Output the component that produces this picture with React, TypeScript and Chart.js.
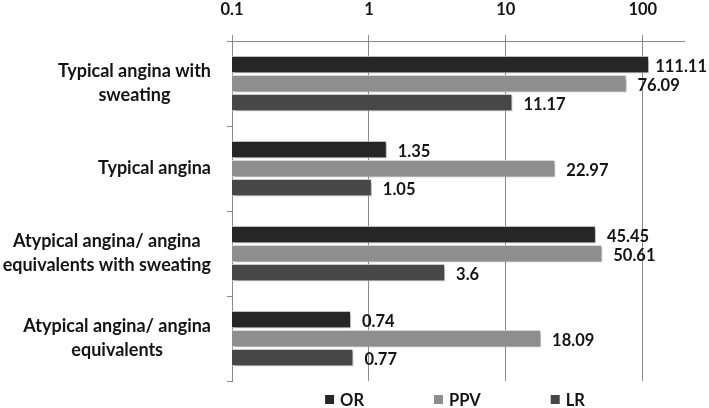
import React, { useEffect, useRef } from 'react';
import { Chart, registerables } from 'chart.js';

Chart.register(...registerables);

const categories: string[][] = [
  ['Typical angina with', 'sweating'],
  ['Typical angina'],
  ['Atypical angina/ angina', 'equivalents with sweating'],
  ['Atypical angina/ angina', 'equivalents'],
];
const seriesNames = ['OR', 'PPV', 'LR'];
const orValues = [111.11, 1.35, 45.45, 0.74];
const ppvValues = [76.09, 22.97, 50.61, 18.09];
const lrValues = [11.17, 1.05, 3.6, 0.77];
const xTickValues = [0.1, 1, 10, 100];
const seriesColors = ['#262626', '#8e8e8e', '#474747'];

const FONT = 'Lato, "Open Sans", "DejaVu Sans", sans-serif';
const TEXT = '#141414';

const shadowPlugin = {
  id: 'barShadow',
  beforeDatasetDraw(chart: any) {
    const ctx = chart.ctx;
    ctx.save();
    ctx.shadowColor = 'rgba(0,0,0,0.35)';
    ctx.shadowBlur = 3;
    ctx.shadowOffsetX = 2;
    ctx.shadowOffsetY = 2;
  },
  afterDatasetDraw(chart: any) {
    chart.ctx.restore();
  },
};

const valueLabelPlugin = {
  id: 'valueLabels',
  afterDatasetsDraw(chart: any) {
    const ctx = chart.ctx;
    ctx.save();
    ctx.font = `bold 16.5px ${FONT}`;
    ctx.fillStyle = TEXT;
    ctx.textAlign = 'left';
    ctx.textBaseline = 'middle';
    chart.data.datasets.forEach((ds: any, di: number) => {
      const meta = chart.getDatasetMeta(di);
      meta.data.forEach((bar: any, i: number) => {
        const txt = String(ds.data[i]);
        const w = ctx.measureText(txt).width;
        let x = bar.x + 11;
        if (x + w > chart.width - 2) x = chart.width - 2 - w;
        ctx.fillText(txt, x, bar.y + 2);
      });
    });
    ctx.restore();
  },
};

const categoryLabelPlugin = {
  id: 'categoryLabels',
  afterDraw(chart: any) {
    const ctx = chart.ctx;
    const yScale = chart.scales.y;
    ctx.save();
    ctx.font = `bold 18px ${FONT}`;
    ctx.fillStyle = TEXT;
    ctx.textAlign = 'center';
    ctx.textBaseline = 'middle';
    (chart.data.labels as string[][]).forEach((lines, i) => {
      const cy = yScale.getPixelForValue(i);
      const bw = Math.max(...lines.map((l) => ctx.measureText(l).width));
      const cx = yScale.right - 21 - bw / 2;
      lines.forEach((l, j) => {
        ctx.fillText(l, cx, cy + (j - (lines.length - 1) / 2) * 24);
      });
    });
    ctx.restore();
  },
};

const legendPlugin = {
  id: 'customLegend',
  afterDraw(chart: any) {
    const ctx = chart.ctx;
    const { left, right } = chart.chartArea;
    ctx.save();
    ctx.font = `bold 16.5px ${FONT}`;
    const box = 9;
    const gap = 6;
    const spacing = 70;
    const items = chart.data.datasets.map((d: any) => ({
      text: d.label,
      color: d.backgroundColor,
      w: ctx.measureText(d.label).width,
    }));
    const total = items.reduce(
      (s: number, it: any, i: number) => s + box + gap + it.w + (i > 0 ? spacing : 0),
      0
    );
    let x = (left + right) / 2 - total / 2 - 3;
    const y = 399.5;
    ctx.textAlign = 'left';
    ctx.textBaseline = 'middle';
    items.forEach((it: any) => {
      ctx.fillStyle = it.color;
      ctx.fillRect(x, y - box / 2, box, box);
      ctx.fillStyle = TEXT;
      ctx.fillText(it.text, x + box + gap, y + 1);
      x += box + gap + it.w + spacing;
    });
    ctx.restore();
  },
};

export default function App() {
  const canvasRef = useRef<HTMLCanvasElement | null>(null);

  useEffect(() => {
    if (!canvasRef.current) return;
    const valuesList = [orValues, ppvValues, lrValues];
    const chart = new Chart(canvasRef.current, {
      type: 'bar',
      data: {
        labels: categories as any,
        datasets: seriesNames.map((name, i) => ({
          label: name,
          data: valuesList[i],
          backgroundColor: seriesColors[i],
          borderColor: '#f2f2f2',
          borderWidth: 1,
          categoryPercentage: 0.67,
          barPercentage: 0.92,
        })),
      },
      options: {
        indexAxis: 'y',
        animation: false,
        responsive: false,
        devicePixelRatio: 1,
        layout: { padding: { top: 0, right: 25, bottom: 27, left: 0 } },
        plugins: {
          legend: { display: false },
          tooltip: { enabled: false },
        },
        scales: {
          x: {
            type: 'logarithmic',
            position: 'top',
            min: 0.1,
            max: 200,
            afterBuildTicks: (s: any) => {
              s.ticks = xTickValues.map((v) => ({ value: v }));
            },
            afterFit: (s: any) => {
              s.height = 41;
            },
            ticks: {
              autoSkip: false,
              maxRotation: 0,
              padding: 15,
              color: TEXT,
              font: { family: FONT, size: 16.5, weight: 'bold' },
              callback: (v: any) => String(v),
            },
            grid: { color: '#8a8a8a', lineWidth: 1, tickLength: 6 },
            border: { color: '#8a8a8a' },
          },
          y: {
            afterFit: (s: any) => {
              s.width = 232;
            },
            ticks: { display: false },
            grid: { drawOnChartArea: false, tickLength: 5, color: '#8a8a8a' },
            border: { color: '#8a8a8a' },
          },
        },
      } as any,
      plugins: [shadowPlugin, valueLabelPlugin, categoryLabelPlugin, legendPlugin],
    });
    return () => chart.destroy();
  }, []);

  return (
    <div style={{ position: 'fixed', left: 0, top: 0, width: 709, height: 408, background: '#fff' }}>
      <canvas ref={canvasRef} width={709} height={408} />
    </div>
  );
}
